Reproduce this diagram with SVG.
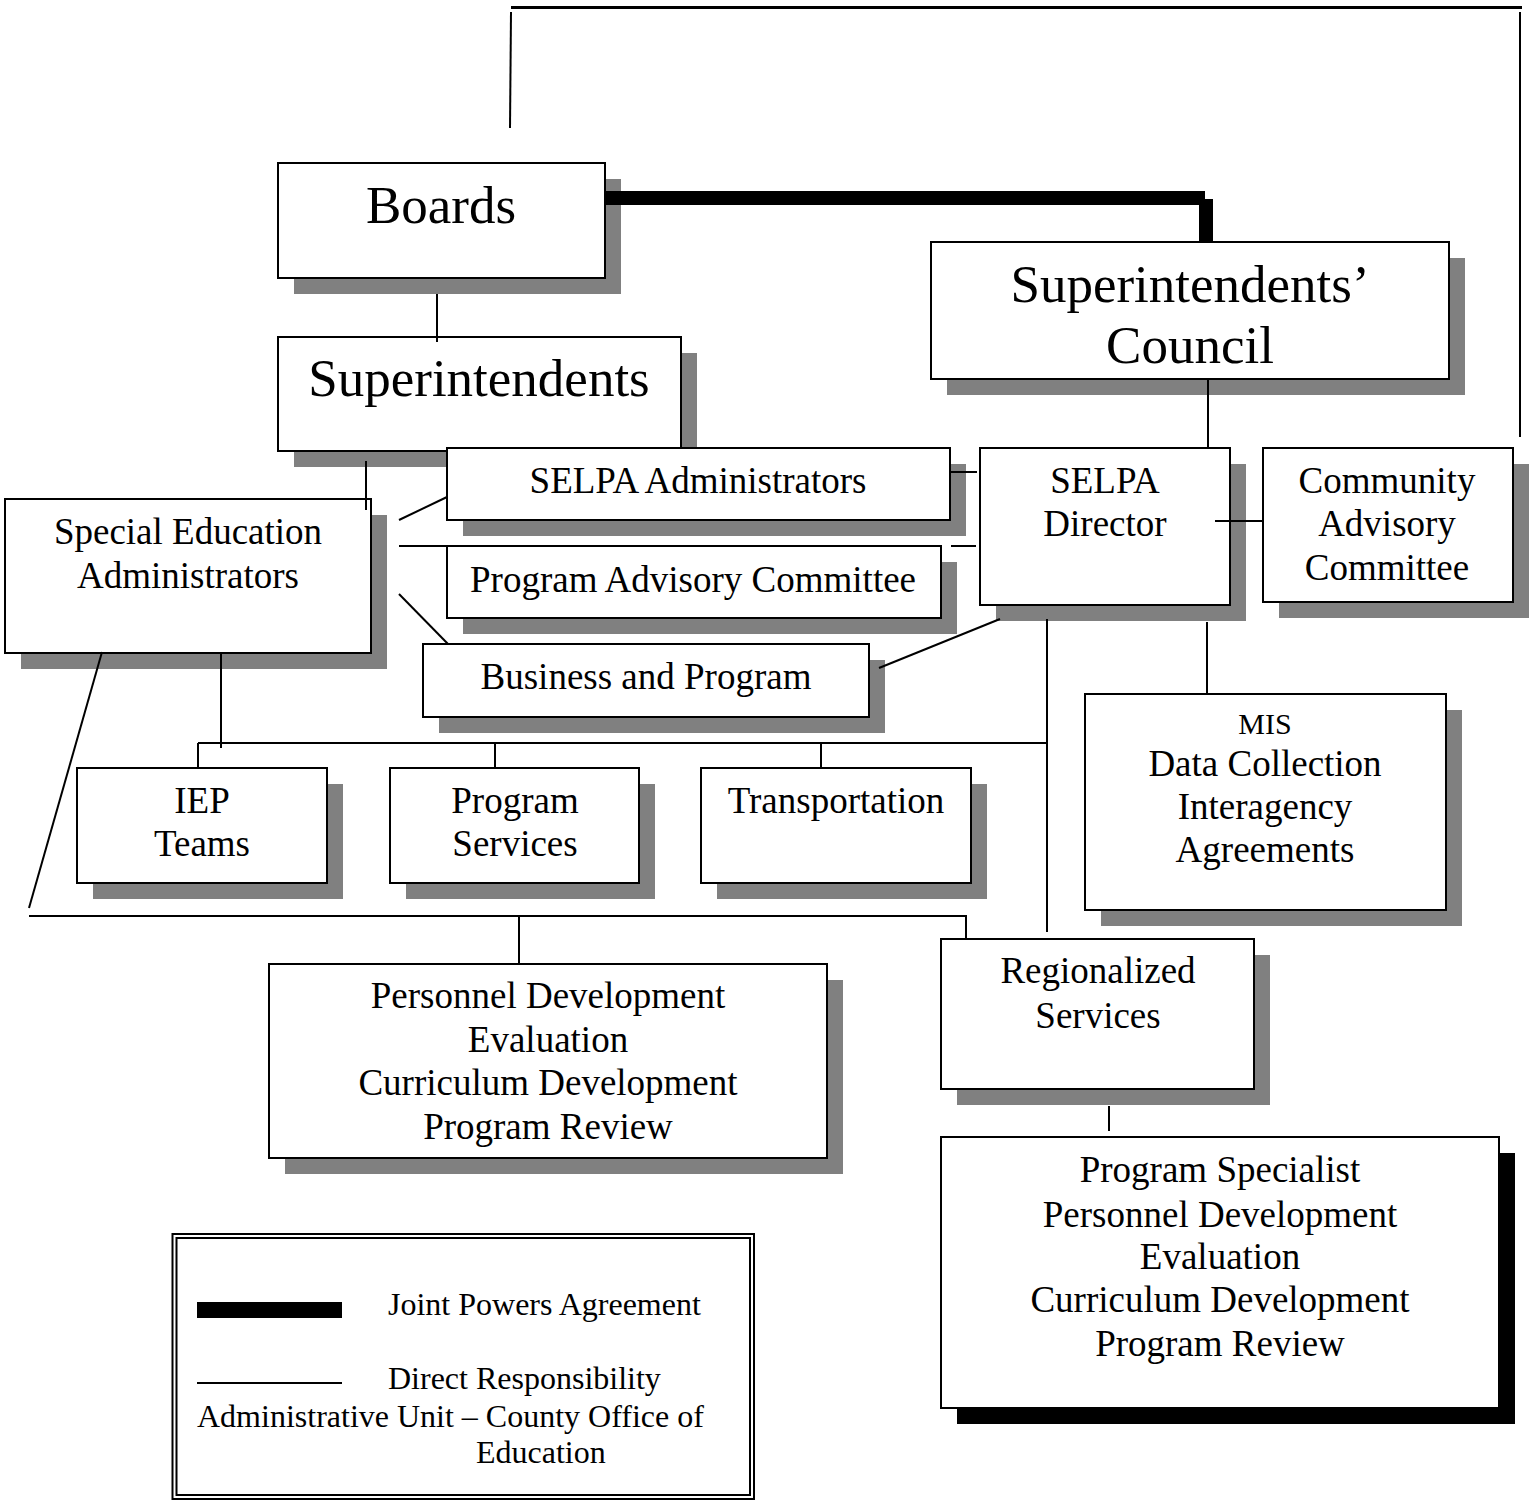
<svg xmlns="http://www.w3.org/2000/svg" width="1529" height="1501" viewBox="0 0 1529 1501">
<style>
  .box { fill: #ffffff; stroke: #000000; stroke-width: 2; }
  .shd { fill: #808080; stroke: none; }
  .shdk { fill: #000000; stroke: none; }
  .ln { stroke: #000000; stroke-width: 2; fill: none; }
  text { font-family: "Liberation Serif", "Times New Roman", serif; fill: #000000; text-anchor: middle; }
  .big { font-size: 53px; }
  .mid { font-size: 37px; }
  .sm { font-size: 30px; }
  .lg { font-size: 32px; text-anchor: start; }
</style>
<rect width="1529" height="1501" fill="#ffffff"/>

<g id="boards">
  <rect class="shd" x="294" y="179" width="327" height="115"/>
  <rect class="box" x="278" y="163" width="327" height="115"/>
  <text class="big" x="441" y="223">Boards</text>
</g>
<g id="superintendents">
  <rect class="shd" x="294" y="353" width="403" height="114"/>
  <rect class="box" x="278" y="337" width="403" height="114"/>
  <text class="big" x="479" y="396">Superintendents</text>
</g>
<g id="council">
  <rect class="shd" x="947" y="258" width="518" height="137"/>
  <rect class="box" x="931" y="242" width="518" height="137"/>
  <text class="big" x="1190" y="302">Superintendents’</text>
  <text class="big" x="1190" y="363">Council</text>
</g>
<g id="selpa-admin">
  <rect class="shd" x="463" y="464" width="503" height="72"/>
  <rect class="box" x="447" y="448" width="503" height="72"/>
  <text class="mid" x="698" y="493">SELPA Administrators</text>
</g>
<g id="program-advisory">
  <rect class="shd" x="463" y="562" width="494" height="72"/>
  <rect class="box" x="447" y="546" width="494" height="72"/>
  <text class="mid" x="693" y="592">Program Advisory Committee</text>
</g>
<g id="business">
  <rect class="shd" x="439" y="660" width="446" height="73"/>
  <rect class="box" x="423" y="644" width="446" height="73"/>
  <text class="mid" x="646" y="689">Business and Program</text>
</g>
<g id="special-ed-admin">
  <rect class="shd" x="21" y="515" width="366" height="154"/>
  <rect class="box" x="5" y="499" width="366" height="154"/>
  <text class="mid" x="188" y="544">Special Education</text>
  <text class="mid" x="188" y="588">Administrators</text>
</g>
<g id="selpa-director">
  <rect class="shd" x="996" y="464" width="250" height="157"/>
  <rect class="box" x="980" y="448" width="250" height="157"/>
  <text class="mid" x="1105" y="493">SELPA</text>
  <text class="mid" x="1105" y="536">Director</text>
</g>
<g id="community-advisory">
  <rect class="shd" x="1279" y="464" width="250" height="154"/>
  <rect class="box" x="1263" y="448" width="250" height="154"/>
  <text class="mid" x="1387" y="493">Community</text>
  <text class="mid" x="1387" y="536">Advisory</text>
  <text class="mid" x="1387" y="580">Committee</text>
</g>
<g id="mis">
  <rect class="shd" x="1101" y="710" width="361" height="216"/>
  <rect class="box" x="1085" y="694" width="361" height="216"/>
  <text class="sm" x="1265" y="734">MIS</text>
  <text class="mid" x="1265" y="776">Data Collection</text>
  <text class="mid" x="1265" y="819">Interagency</text>
  <text class="mid" x="1265" y="862">Agreements</text>
</g>
<g id="iep-teams">
  <rect class="shd" x="93" y="784" width="250" height="115"/>
  <rect class="box" x="77" y="768" width="250" height="115"/>
  <text class="mid" x="202" y="813">IEP</text>
  <text class="mid" x="202" y="856">Teams</text>
</g>
<g id="program-services">
  <rect class="shd" x="406" y="784" width="249" height="115"/>
  <rect class="box" x="390" y="768" width="249" height="115"/>
  <text class="mid" x="515" y="813">Program</text>
  <text class="mid" x="515" y="856">Services</text>
</g>
<g id="transportation">
  <rect class="shd" x="717" y="784" width="270" height="115"/>
  <rect class="box" x="701" y="768" width="270" height="115"/>
  <text class="mid" x="836" y="813">Transportation</text>
</g>
<g id="personnel">
  <rect class="shd" x="285" y="980" width="558" height="194"/>
  <rect class="box" x="269" y="964" width="558" height="194"/>
  <text class="mid" x="548" y="1008">Personnel Development</text>
  <text class="mid" x="548" y="1052">Evaluation</text>
  <text class="mid" x="548" y="1095">Curriculum Development</text>
  <text class="mid" x="548" y="1139">Program Review</text>
</g>
<g id="regionalized">
  <rect class="shd" x="957" y="955" width="313" height="150"/>
  <rect class="box" x="941" y="939" width="313" height="150"/>
  <text class="mid" x="1098" y="983">Regionalized</text>
  <text class="mid" x="1098" y="1028">Services</text>
</g>
<g id="program-specialist">
  <rect class="shdk" x="957" y="1153" width="558" height="271"/>
  <rect class="box" x="941" y="1137" width="558" height="271"/>
  <text class="mid" x="1220" y="1182">Program Specialist</text>
  <text class="mid" x="1220" y="1227">Personnel Development</text>
  <text class="mid" x="1220" y="1269">Evaluation</text>
  <text class="mid" x="1220" y="1312">Curriculum Development</text>
  <text class="mid" x="1220" y="1356">Program Review</text>
</g>

<g id="connectors">
  <!-- Joint powers agreement thick line -->
  <rect x="605" y="191" width="600" height="14" fill="#000"/>
  <rect x="1199" y="199" width="14" height="43" fill="#000"/>
  <!-- top frame -->
  <line class="ln" x1="511" y1="12" x2="510" y2="128"/>
  <line x1="511" y1="7.5" x2="1522" y2="7.5" stroke="#000" stroke-width="3"/>
  <line class="ln" x1="1520" y1="12" x2="1520" y2="437"/>
  <!-- vertical links -->
  <line class="ln" x1="437" y1="294" x2="437" y2="342"/>
  <line class="ln" x1="366" y1="461" x2="366" y2="510"/>
  <line class="ln" x1="1208" y1="379" x2="1208" y2="448"/>
  <!-- SEA to SELPA admin / PAC / business -->
  <line class="ln" x1="399" y1="520" x2="447" y2="497"/>
  <line class="ln" x1="399" y1="546" x2="447" y2="546"/>
  <line class="ln" x1="399" y1="594" x2="448" y2="644"/>
  <!-- to SELPA director -->
  <line class="ln" x1="951" y1="472" x2="977" y2="472"/>
  <line class="ln" x1="951" y1="546" x2="976" y2="546"/>
  <line class="ln" x1="879" y1="668" x2="1000" y2="619"/>
  <line class="ln" x1="1215" y1="521" x2="1263" y2="521"/>
  <line class="ln" x1="1207" y1="622" x2="1207" y2="694"/>
  <line class="ln" x1="1047" y1="619" x2="1047" y2="932"/>
  <!-- SEA down -->
  <line class="ln" x1="221" y1="653" x2="221" y2="748"/>
  <line class="ln" x1="102" y1="652" x2="29" y2="908"/>
  <!-- bus to IEP / programs / transport -->
  <line class="ln" x1="198" y1="743" x2="1047" y2="743"/>
  <line class="ln" x1="198" y1="743" x2="198" y2="768"/>
  <line class="ln" x1="495" y1="743" x2="495" y2="768"/>
  <line class="ln" x1="821" y1="743" x2="821" y2="768"/>
  <!-- lower bus -->
  <polyline class="ln" points="29,916 966,916 966,939"/>
  <line class="ln" x1="519" y1="916" x2="519" y2="964"/>
  <line class="ln" x1="1109" y1="1106" x2="1109" y2="1131"/>
</g>

<g id="legend">
  <rect x="172.5" y="1234" width="581.5" height="265" fill="none" stroke="#000" stroke-width="2"/>
  <rect x="176.5" y="1238" width="573.5" height="257" fill="none" stroke="#000" stroke-width="2"/>
  <rect x="197" y="1302" width="145" height="16" fill="#000"/>
  <line x1="197" y1="1383" x2="342" y2="1383" stroke="#000" stroke-width="2"/>
  <text class="lg" x="388" y="1315">Joint Powers Agreement</text>
  <text class="lg" x="388" y="1389">Direct Responsibility</text>
  <text class="lg" x="197" y="1427">Administrative Unit – County Office of</text>
  <text class="lg" x="476" y="1463">Education</text>
</g>
</svg>
